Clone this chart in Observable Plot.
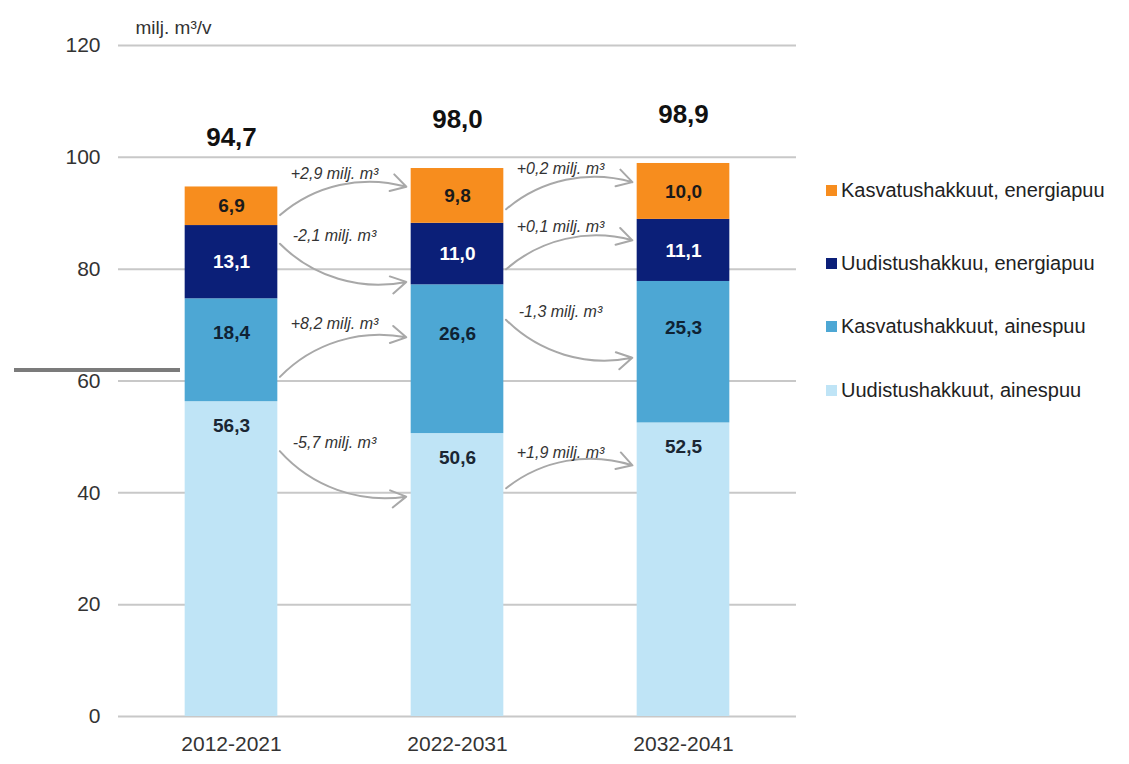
<!DOCTYPE html>
<html><head><meta charset="utf-8">
<script src="https://cdn.jsdelivr.net/npm/d3@7"></script>
<script src="https://cdn.jsdelivr.net/npm/@observablehq/plot@0.6"></script>
<style>
body{margin:0;background:#fff;font-family:"Liberation Sans",Arial,sans-serif;}
#wrap{position:relative;width:1129px;height:764px;overflow:hidden;}
#chart{position:absolute;left:0;top:0;}
#legend{position:absolute;left:826px;top:0;}
.item{position:absolute;left:0;white-space:nowrap;font-size:20px;color:#222;display:flex;align-items:center;line-height:24px;}
.sw{width:11px;height:11px;margin-right:4px;flex:none;}
#stray{position:absolute;left:14px;top:368px;width:166px;height:4px;background:#7b7b7b;}
</style></head><body>
<div id="wrap"><div id="chart"></div><div id="legend"></div><div id="stray"></div></div>
<script>
// ---- data ----
const periods = ["2012-2021", "2022-2031", "2032-2041"];
const series = ["Uudistushakkuut, ainespuu", "Kasvatushakkuut, ainespuu", "Uudistushakkuu, energiapuu", "Kasvatushakkuut, energiapuu"];
const uudistusAines = [56.3, 50.6, 52.5];
const kasvatusAines = [18.4, 26.6, 25.3];
const uudistusEnergia = [13.1, 11.0, 11.1];
const kasvatusEnergia = [6.9, 9.8, 10.0];
const yTicks = [0, 20, 40, 60, 80, 100, 120];
const unitLabel = "milj. m³/v";

// ---- styles ----
const colors = ["#bfe4f6", "#4da7d4", "#0b1f78", "#f78d1e"];
const textColors = ["#1a2633", "#0f2233", "#ffffff", "#1a1a1a"];
const hw = 0.205; // half bar width in band units

const fmt = v => v.toFixed(1).replace(".", ",");
const layers = [uudistusAines, kasvatusAines, uudistusEnergia, kasvatusEnergia];
const segs = [];
const totals = [];
periods.forEach((p, i) => {
  let lo = 0;
  layers.forEach((vals, k) => {
    const v = vals[i];
    segs.push({i, k, series: series[k], v, lo, hi: lo + v});
    lo += v;
  });
  totals.push({i, total: Math.round(lo * 10) / 10});
});

function labelY(d) {
  if (d.k === 0) return d.hi - 4.3;
  if (d.k === 1) return d.hi - 0.33 * d.v;
  return (d.lo + d.hi) / 2;
}

const arrows = [];
for (let i = 0; i < periods.length - 1; i++) {
  for (let k = 0; k < layers.length; k++) {
    const a = segs.find(s => s.i === i && s.k === k);
    const b = segs.find(s => s.i === i + 1 && s.k === k);
    const change = Math.round((b.v - a.v) * 10) / 10;
    let y1, y2;
    if (k === 0) {
      if (change > 0) { y1 = a.hi - 0.2 * a.v; y2 = b.hi - 0.15 * b.v; }
      else { y1 = a.hi - 0.15 * a.v; y2 = b.hi - 0.22 * b.v; }
    } else if (change > 0) { y1 = a.lo + 0.22 * a.v; y2 = b.hi - 0.36 * b.v; }
    else { y1 = a.hi - 0.22 * a.v; y2 = y1 - 7; }
    const ly = change > 0 ? y2 + 2.6 : y1 + 1;
    arrows.push({i, k, change, y1, y2, ly,
      label: (change > 0 ? "+" : "-") + fmt(Math.abs(change)) + " milj. m³"});
  }
}

const arrowOpts = {
  x1: d => d.i + hw, x2: d => d.i + 1 - hw, y1: "y1", y2: "y2",
  stroke: "#a8a8a8", strokeWidth: 2, headLength: 13, insetStart: 3, insetEnd: 5
};

const chart = Plot.plot({
  width: 820, height: 764,
  marginLeft: 118, marginRight: 24, marginTop: 45, marginBottom: 48,
  style: {fontFamily: "'Liberation Sans', Arial, sans-serif", background: "transparent", color: "#333"},
  x: {domain: [-0.5, 2.5], axis: null},
  y: {domain: [0, 120], axis: null},
  color: {domain: series, range: colors},
  marks: [
    Plot.ruleY(yTicks, {stroke: "#c8c8c8", strokeWidth: 2}),
    Plot.axisY({ticks: yTicks, tickSize: 0, tickPadding: 18, fontSize: 21, label: null, tickFormat: d => d}),
    Plot.axisX({ticks: [0, 1, 2], tickFormat: i => periods[i], tickSize: 0, tickPadding: 20, fontSize: 21, label: null}),
    Plot.rectY(segs, {x1: d => d.i - hw, x2: d => d.i + hw, y1: "lo", y2: "hi", fill: "series"}),
    Plot.text(segs, {x: "i", y: labelY, text: d => fmt(d.v), fill: d => textColors[d.k],
      fontSize: 19, fontWeight: "bold", lineAnchor: "middle"}),
    Plot.text(totals, {x: "i", y: "total", text: d => fmt(d.total), dy: -49,
      fontSize: 26, fontWeight: "bold", fill: "#111", lineAnchor: "middle"}),
    Plot.arrow(arrows.filter(d => d.change > 0), {...arrowOpts, bend: 30}),
    Plot.arrow(arrows.filter(d => d.change <= 0), {...arrowOpts, bend: -30}),
    Plot.text(arrows, {x: d => d.i + 0.5, y: "ly", text: "label", dx: -10,
      fontSize: 16, fontStyle: "italic", fill: "#333", lineAnchor: "middle"}),
    Plot.text([unitLabel], {frameAnchor: "top-left", dx: 17, dy: -18, textAnchor: "start",
      lineAnchor: "middle", fontSize: 19, fill: "#333"})
  ]
});
document.getElementById("chart").appendChild(chart);

// legend (top to bottom: reverse stack order)
const legend = document.getElementById("legend");
const legendTops = [178, 251, 314, 378];
[3, 2, 1, 0].forEach((k, j) => {
  const item = document.createElement("div");
  item.className = "item";
  item.style.top = legendTops[j] + "px";
  const sw = document.createElement("span");
  sw.className = "sw";
  sw.style.background = colors[k];
  const t = document.createElement("span");
  t.textContent = series[k];
  item.appendChild(sw); item.appendChild(t);
  legend.appendChild(item);
});
</script>
</body></html>
